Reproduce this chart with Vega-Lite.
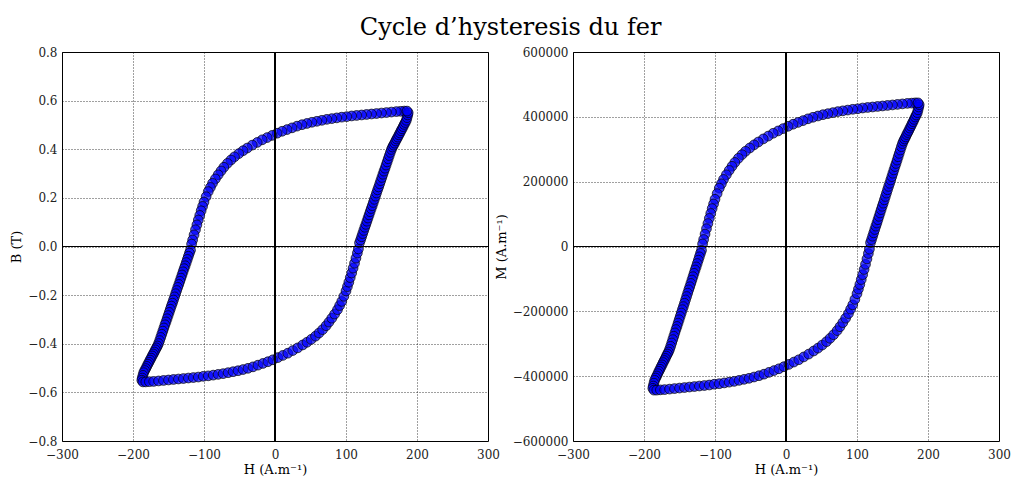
{
  "$schema": "https://vega.github.io/schema/vega-lite/v6.json",
  "background": "white",
  "padding": {"left": 10, "top": 15, "right": 6, "bottom": 0},
  "title": {"text": "Cycle d’hysteresis du fer", "font": "DejaVu Serif", "fontSize": 24, "fontWeight": "normal", "color": "black", "anchor": "middle", "offset": 6},
  "datasets": {
    "loop": [
      {"h":182,"b":0.557,"m":443065},{"h":177,"b":0.556,"m":442274},{"h":171,"b":0.555,"m":441484},{"h":164,"b":0.553,"m":439900},{"h":157,"b":0.551,"m":438315},{"h":150,"b":0.549,"m":436731},{"h":143,"b":0.547,"m":435146},{"h":136,"b":0.545,"m":433561},{"h":129,"b":0.543,"m":431977},{"h":122,"b":0.541,"m":430392},{"h":115,"b":0.539,"m":428808},{"h":108,"b":0.537,"m":427223},{"h":101,"b":0.534,"m":424843},{"h":94,"b":0.532,"m":423258},{"h":87,"b":0.529,"m":420878},{"h":80,"b":0.526,"m":418498},{"h":73,"b":0.523,"m":416117},{"h":66,"b":0.519,"m":412941},{"h":59,"b":0.515,"m":409765},{"h":52,"b":0.511,"m":406589},{"h":45,"b":0.506,"m":402617},{"h":38,"b":0.501,"m":398645},{"h":31,"b":0.495,"m":393878},{"h":24,"b":0.488,"m":388314},{"h":17,"b":0.481,"m":382751},{"h":10,"b":0.474,"m":377187},{"h":3,"b":0.466,"m":370828},{"h":-4,"b":0.457,"m":363673},{"h":-11,"b":0.448,"m":356518},{"h":-18,"b":0.439,"m":349363},{"h":-25,"b":0.428,"m":340617},{"h":-32,"b":0.417,"m":331870},{"h":-39,"b":0.405,"m":322328},{"h":-45,"b":0.394,"m":313580},{"h":-51,"b":0.382,"m":304037},{"h":-57,"b":0.369,"m":293698},{"h":-62,"b":0.356,"m":283358},{"h":-67,"b":0.342,"m":272222},{"h":-72,"b":0.326,"m":259495},{"h":-76,"b":0.311,"m":247562},{"h":-80,"b":0.295,"m":234834},{"h":-84,"b":0.278,"m":221310},{"h":-88,"b":0.260,"m":206990},{"h":-91,"b":0.243,"m":193464},{"h":-94,"b":0.226,"m":179939},{"h":-97,"b":0.205,"m":163231},{"h":-100,"b":0.183,"m":145727},{"h":-102,"b":0.165,"m":131405},{"h":-104,"b":0.147,"m":117083},{"h":-106,"b":0.128,"m":101965},{"h":-108,"b":0.109,"m":86848},{"h":-110,"b":0.089,"m":70934},{"h":-112,"b":0.069,"m":55021},{"h":-114,"b":0.048,"m":38311},{"h":-116,"b":0.027,"m":21602},{"h":-117.5,"b":0.010,"m":8075},
      {"h":-119,"b":-0.015,"m":-11818},{"h":-120.5,"b":-0.027,"m":-21365},{"h":-122,"b":-0.040,"m":-31709},{"h":-123.5,"b":-0.053,"m":-42053},{"h":-125,"b":-0.066,"m":-52396},{"h":-126.5,"b":-0.079,"m":-62740},{"h":-128,"b":-0.091,"m":-72288},{"h":-129.5,"b":-0.104,"m":-82631},{"h":-131,"b":-0.117,"m":-92975},{"h":-132.5,"b":-0.130,"m":-103318},{"h":-134,"b":-0.143,"m":-113662},{"h":-135.5,"b":-0.156,"m":-124005},{"h":-137,"b":-0.168,"m":-133553},{"h":-138.5,"b":-0.181,"m":-143897},{"h":-140,"b":-0.194,"m":-154240},{"h":-141.5,"b":-0.207,"m":-164584},{"h":-143,"b":-0.220,"m":-174928},{"h":-144.5,"b":-0.233,"m":-185271},{"h":-146,"b":-0.245,"m":-194819},{"h":-147.5,"b":-0.258,"m":-205162},{"h":-149,"b":-0.271,"m":-215506},{"h":-150.5,"b":-0.284,"m":-225850},{"h":-152,"b":-0.297,"m":-236193},{"h":-153.5,"b":-0.310,"m":-246537},{"h":-155,"b":-0.322,"m":-256085},{"h":-156.5,"b":-0.335,"m":-266428},{"h":-158,"b":-0.348,"m":-276772},{"h":-159.5,"b":-0.361,"m":-287115},{"h":-161,"b":-0.374,"m":-297459},{"h":-162.5,"b":-0.387,"m":-307802},{"h":-164,"b":-0.399,"m":-317350},{"h":-165.5,"b":-0.409,"m":-325306},{"h":-167,"b":-0.417,"m":-331671},{"h":-168.5,"b":-0.425,"m":-338036},{"h":-170,"b":-0.434,"m":-345196},{"h":-171.5,"b":-0.442,"m":-351561},{"h":-173,"b":-0.450,"m":-357926},{"h":-174.5,"b":-0.459,"m":-365086},{"h":-176,"b":-0.467,"m":-371451},{"h":-177.5,"b":-0.476,"m":-378611},{"h":-179,"b":-0.484,"m":-384976},{"h":-180.5,"b":-0.493,"m":-392136},{"h":-182,"b":-0.502,"m":-399297},{"h":-183.5,"b":-0.510,"m":-405661},{"h":-185,"b":-0.519,"m":-412822},{"h":-186,"b":-0.530,"m":-421575},{"h":-187,"b":-0.541,"m":-430327},{"h":-187.6,"b":-0.550,"m":-437488},{"h":-186,"b":-0.557,"m":-443061},
      {"h":-182,"b":-0.557,"m":-443065},{"h":-177,"b":-0.556,"m":-442274},{"h":-171,"b":-0.555,"m":-441484},{"h":-164,"b":-0.553,"m":-439900},{"h":-157,"b":-0.551,"m":-438315},{"h":-150,"b":-0.549,"m":-436731},{"h":-143,"b":-0.547,"m":-435146},{"h":-136,"b":-0.545,"m":-433561},{"h":-129,"b":-0.543,"m":-431977},{"h":-122,"b":-0.541,"m":-430392},{"h":-115,"b":-0.539,"m":-428808},{"h":-108,"b":-0.537,"m":-427223},{"h":-101,"b":-0.534,"m":-424843},{"h":-94,"b":-0.532,"m":-423258},{"h":-87,"b":-0.529,"m":-420878},{"h":-80,"b":-0.526,"m":-418498},{"h":-73,"b":-0.523,"m":-416117},{"h":-66,"b":-0.519,"m":-412941},{"h":-59,"b":-0.515,"m":-409765},{"h":-52,"b":-0.511,"m":-406589},{"h":-45,"b":-0.506,"m":-402617},{"h":-38,"b":-0.501,"m":-398645},{"h":-31,"b":-0.495,"m":-393878},{"h":-24,"b":-0.488,"m":-388314},{"h":-17,"b":-0.481,"m":-382751},{"h":-10,"b":-0.474,"m":-377187},{"h":-3,"b":-0.466,"m":-370828},{"h":4,"b":-0.457,"m":-363673},{"h":11,"b":-0.448,"m":-356518},{"h":18,"b":-0.439,"m":-349363},{"h":25,"b":-0.428,"m":-340617},{"h":32,"b":-0.417,"m":-331870},{"h":39,"b":-0.405,"m":-322328},{"h":45,"b":-0.394,"m":-313580},{"h":51,"b":-0.382,"m":-304037},{"h":57,"b":-0.369,"m":-293698},{"h":62,"b":-0.356,"m":-283358},{"h":67,"b":-0.342,"m":-272222},{"h":72,"b":-0.326,"m":-259495},{"h":76,"b":-0.311,"m":-247562},{"h":80,"b":-0.295,"m":-234834},{"h":84,"b":-0.278,"m":-221310},{"h":88,"b":-0.260,"m":-206990},{"h":91,"b":-0.243,"m":-193464},{"h":94,"b":-0.226,"m":-179939},{"h":97,"b":-0.205,"m":-163231},{"h":100,"b":-0.183,"m":-145727},{"h":102,"b":-0.165,"m":-131405},{"h":104,"b":-0.147,"m":-117083},{"h":106,"b":-0.128,"m":-101965},{"h":108,"b":-0.109,"m":-86848},{"h":110,"b":-0.089,"m":-70934},{"h":112,"b":-0.069,"m":-55021},{"h":114,"b":-0.048,"m":-38311},{"h":116,"b":-0.027,"m":-21602},{"h":117.5,"b":-0.010,"m":-8075},
      {"h":119,"b":0.015,"m":11818},{"h":120.5,"b":0.027,"m":21365},{"h":122,"b":0.040,"m":31709},{"h":123.5,"b":0.053,"m":42053},{"h":125,"b":0.066,"m":52396},{"h":126.5,"b":0.079,"m":62740},{"h":128,"b":0.091,"m":72288},{"h":129.5,"b":0.104,"m":82631},{"h":131,"b":0.117,"m":92975},{"h":132.5,"b":0.130,"m":103318},{"h":134,"b":0.143,"m":113662},{"h":135.5,"b":0.156,"m":124005},{"h":137,"b":0.168,"m":133553},{"h":138.5,"b":0.181,"m":143897},{"h":140,"b":0.194,"m":154240},{"h":141.5,"b":0.207,"m":164584},{"h":143,"b":0.220,"m":174928},{"h":144.5,"b":0.233,"m":185271},{"h":146,"b":0.245,"m":194819},{"h":147.5,"b":0.258,"m":205162},{"h":149,"b":0.271,"m":215506},{"h":150.5,"b":0.284,"m":225850},{"h":152,"b":0.297,"m":236193},{"h":153.5,"b":0.310,"m":246537},{"h":155,"b":0.322,"m":256085},{"h":156.5,"b":0.335,"m":266428},{"h":158,"b":0.348,"m":276772},{"h":159.5,"b":0.361,"m":287115},{"h":161,"b":0.374,"m":297459},{"h":162.5,"b":0.387,"m":307802},{"h":164,"b":0.399,"m":317350},{"h":165.5,"b":0.409,"m":325306},{"h":167,"b":0.417,"m":331671},{"h":168.5,"b":0.425,"m":338036},{"h":170,"b":0.434,"m":345196},{"h":171.5,"b":0.442,"m":351561},{"h":173,"b":0.450,"m":357926},{"h":174.5,"b":0.459,"m":365086},{"h":176,"b":0.467,"m":371451},{"h":177.5,"b":0.476,"m":378611},{"h":179,"b":0.484,"m":384976},{"h":180.5,"b":0.493,"m":392136},{"h":182,"b":0.502,"m":399297},{"h":183.5,"b":0.510,"m":405661},{"h":185,"b":0.519,"m":412822},{"h":186,"b":0.530,"m":421575},{"h":187,"b":0.541,"m":430327},{"h":187.6,"b":0.550,"m":437488},{"h":186,"b":0.557,"m":443061}
    ]
  },
  "data": {"name": "loop"},
  "spacing": 85,
  "bounds": "flush",
  "config": {
    "font": "DejaVu Serif",
    "view": {"stroke": "black", "strokeWidth": 1},
    "axis": {
      "grid": true, "gridColor": "#000000", "gridDash": [1, 2], "gridOpacity": 0.75, "gridWidth": 1,
      "ticks": false, "domain": false,
      "labelFont": "DejaVu Serif", "labelFontSize": 12, "labelColor": "#222222",
      "labelFlush": false, "labelOverlap": false, "labelPadding": 5,
      "titleFont": "DejaVu Serif", "titleFontSize": 13, "titleFontWeight": "normal", "titleColor": "black"
    },
    "axisX": {"labelPadding": 8, "titlePadding": 3}
  },
  "hconcat": [
    {
      "width": 426, "height": 389,
      "layer": [
        {
          "mark": {"type": "point", "shape": "circle", "filled": true, "fill": "#0000ff", "fillOpacity": 0.72, "stroke": "black", "strokeWidth": 1, "strokeOpacity": 0.7, "size": 95},
          "encoding": {
            "x": {"field": "h", "type": "quantitative", "scale": {"domain": [-300, 300], "nice": false, "zero": false}, "axis": {"title": "H (A.m⁻¹)", "values": [-300, -200, -100, 0, 100, 200, 300], "format": "d"}},
            "y": {"field": "b", "type": "quantitative", "scale": {"domain": [-0.8, 0.8], "nice": false, "zero": false}, "axis": {"title": "B (T)", "values": [-0.8, -0.6, -0.4, -0.2, 0, 0.2, 0.4, 0.6, 0.8], "format": ".1f"}}
          }
        },
        {"mark": {"type": "rule", "color": "black", "strokeWidth": 1}, "encoding": {"x": {"datum": 0, "type": "quantitative"}}},
        {"mark": {"type": "rule", "color": "black", "strokeWidth": 1}, "encoding": {"y": {"datum": 0, "type": "quantitative"}}}
      ]
    },
    {
      "width": 426, "height": 389,
      "layer": [
        {
          "mark": {"type": "point", "shape": "circle", "filled": true, "fill": "#0000ff", "fillOpacity": 0.72, "stroke": "black", "strokeWidth": 1, "strokeOpacity": 0.7, "size": 95},
          "encoding": {
            "x": {"field": "h", "type": "quantitative", "scale": {"domain": [-300, 300], "nice": false, "zero": false}, "axis": {"title": "H (A.m⁻¹)", "values": [-300, -200, -100, 0, 100, 200, 300], "format": "d"}},
            "y": {"field": "m", "type": "quantitative", "scale": {"domain": [-600000, 600000], "nice": false, "zero": false}, "axis": {"title": "M (A.m⁻¹)", "values": [-600000, -400000, -200000, 0, 200000, 400000, 600000], "format": "d"}}
          }
        },
        {"mark": {"type": "rule", "color": "black", "strokeWidth": 1}, "encoding": {"x": {"datum": 0, "type": "quantitative"}}},
        {"mark": {"type": "rule", "color": "black", "strokeWidth": 1}, "encoding": {"y": {"datum": 0, "type": "quantitative"}}}
      ]
    }
  ]
}
